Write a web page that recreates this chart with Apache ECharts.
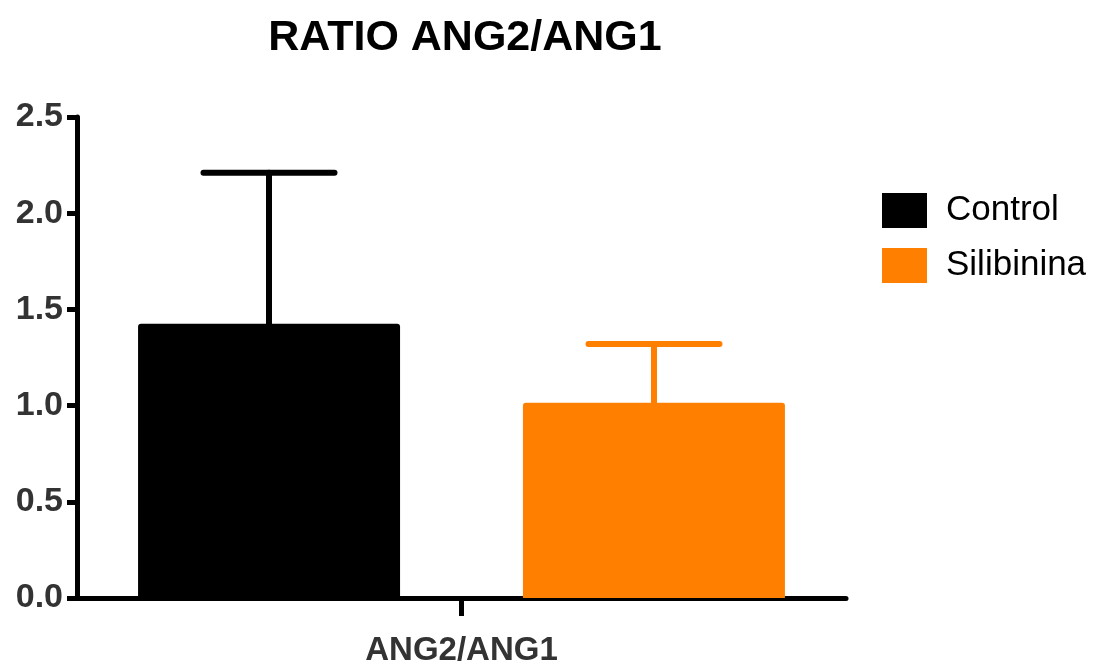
<!DOCTYPE html>
<html>
<head>
<meta charset="utf-8">
<script src="https://cdn.jsdelivr.net/npm/echarts@6/dist/echarts.min.js"></script>
<style>
  html, body { margin: 0; padding: 0; background: #fff; }
  #main { width: 1093px; height: 663px; }
</style>
</head>
<body>
<div id="main"></div>
<script>
// data
var categories = ['ANG2/ANG1'];
var groupNames = ['Control', 'Silibinina'];
var means = [1.425, 1.015];
var upperErr = [2.21, 1.32];   // top of the error bar (mean + SEM)
var yTicks = [0, 0.5, 1.0, 1.5, 2.0, 2.5];

var colors = ['#000000', '#FF8000'];
var FONT = '"Liberation Sans", Arial, sans-serif';

var barW = 262;
var gapPx = 123;

var chart = echarts.init(document.getElementById('main'));

// bar series
var series = groupNames.map(function (name, i) {
  return {
    name: name,
    type: 'bar',
    data: [means[i]],
    barWidth: barW,
    barGap: (gapPx / barW * 100).toFixed(1) + '%',
    itemStyle: { color: colors[i], borderRadius: [3, 3, 0, 0] },
    z: 2
  };
});

// error bars (custom), one per group
groupNames.forEach(function (name, i) {
  var shift = (i === 0 ? -1 : 1) * (barW + gapPx) / 2;
  series.push({
    name: name + ' err',
    type: 'custom',
    data: [[0, means[i], upperErr[i]]],
    z: 3,
    renderItem: function (params, api) {
      var base = api.coord([api.value(0), api.value(1)]);
      var top = api.coord([api.value(0), api.value(2)]);
      var x = base[0] + shift;
      var half = barW / 4;
      var st = { stroke: colors[i], lineWidth: 6, lineCap: 'round' };
      return {
        type: 'group',
        children: [
          { type: 'line', shape: { x1: x, y1: base[1] + 2, x2: x, y2: top[1] }, style: st },
          { type: 'line', shape: { x1: x - half, y1: top[1], x2: x + half, y2: top[1] }, style: st }
        ]
      };
    }
  });
});

// the single x tick under the category (axisTick doesn't show for one category)
series.push({
  name: 'xtick',
  type: 'custom',
  data: [[0, 0]],
  clip: false,
  z: 4,
  renderItem: function (params, api) {
    var p = api.coord([api.value(0), api.value(1)]);
    return {
      type: 'line',
      shape: { x1: p[0], y1: p[1], x2: p[0], y2: p[1] + 18 },
      style: { stroke: '#000', lineWidth: 5 }
    };
  }
});

var option = {
  backgroundColor: '#ffffff',
  animation: false,
  title: {
    text: 'RATIO ANG2/ANG1',
    left: 460,
    top: 12,
    textAlign: 'center',
    textStyle: { fontFamily: FONT, fontSize: 43, fontWeight: 'bold', color: '#000' }
  },
  legend: {
    data: groupNames,
    orient: 'vertical',
    left: 882,
    top: 193,
    padding: 0,
    itemWidth: 45,
    itemHeight: 35,
    itemGap: 20,
    icon: 'rect',
    textStyle: { fontFamily: FONT, fontSize: 35, color: '#000', padding: [4, 0, 0, 14] }
  },
  grid: { left: 77, right: 247, top: 117, bottom: 65, containLabel: false, outerBoundsMode: 'none' },
  xAxis: {
    type: 'category',
    data: categories,
    axisLine: { lineStyle: { color: '#000', width: 5 } },
    axisTick: { show: false },
    axisLabel: { fontFamily: FONT, fontSize: 33, fontWeight: 'bold', color: '#333', margin: 36 }
  },
  yAxis: {
    type: 'value',
    min: yTicks[0],
    max: yTicks[yTicks.length - 1],
    interval: 0.5,
    splitLine: { show: false },
    axisLine: { show: true, lineStyle: { color: '#000', width: 5 } },
    axisTick: { show: true, length: 10, lineStyle: { color: '#000', width: 5 } },
    axisLabel: {
      fontFamily: FONT, fontSize: 34, fontWeight: 'bold', color: '#333', margin: 14,
      formatter: function (v) { return v.toFixed(1); }
    }
  },
  series: series
};

chart.setOption(option);
</script>
</body>
</html>
